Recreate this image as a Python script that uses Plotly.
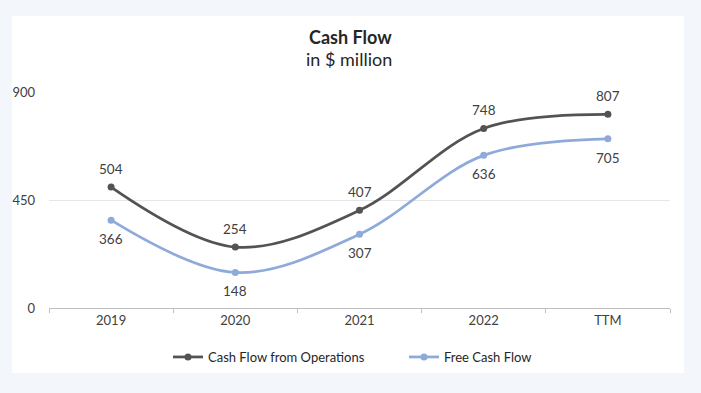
import plotly.graph_objects as go

categories = ["2019", "2020", "2021", "2022", "TTM"]
cfo = [504, 254, 407, 748, 807]
fcf = [366, 148, 307, 636, 705]
y_ticks = [0, 450, 900]

FONT = "Lato, 'Open Sans', sans-serif"
W, H = 701, 393
ML, MR, MT, MB = 49, 31, 92, 85
PW, PH = W - ML - MR, H - MT - MB
DARK = "#535353"
BLUE = "#8eaadb"

def px_x(x):
    return (x - ML) / PW

def px_y(y):
    return 1 - (y - MT) / PH

fig = go.Figure()
fig.add_trace(go.Scatter(
    x=categories, y=cfo, name="Cash Flow from Operations", legend="legend",
    mode="lines+markers", line=dict(color=DARK, width=2.75, shape="spline"),
    marker=dict(size=7, color=DARK),
))
fig.add_trace(go.Scatter(
    x=categories, y=fcf, name="Free Cash Flow", legend="legend2",
    mode="lines+markers", line=dict(color=BLUE, width=2.75, shape="spline"),
    marker=dict(size=7, color=BLUE),
))

for i, v in enumerate(cfo):
    fig.add_annotation(x=i, y=v, text=str(v), showarrow=False, yshift=18,
                       font=dict(size=13.5, color="#404040", family=FONT))
for i, v in enumerate(fcf):
    fig.add_annotation(x=i, y=v, text=str(v), showarrow=False, yshift=-19,
                       font=dict(size=13.5, color="#404040", family=FONT))

fig.add_shape(type="rect", xref="paper", yref="paper", layer="below",
              x0=px_x(12), x1=px_x(684), y0=px_y(373), y1=px_y(16),
              fillcolor="white", line=dict(width=0))

fig.add_annotation(text="<b>Cash Flow</b>", xref="paper", yref="paper",
                   x=px_x(350), y=px_y(37), xanchor="center", yanchor="middle",
                   showarrow=False, font=dict(size=18, color="#262626", family=FONT))
fig.add_annotation(text="in $ million", xref="paper", yref="paper",
                   x=px_x(349), y=px_y(59), xanchor="center", yanchor="middle",
                   showarrow=False, font=dict(size=18, color="#262626", family=FONT))

leg_common = dict(orientation="h", yanchor="middle", y=px_y(357), xanchor="left",
                  font=dict(size=13, color="#262626", family=FONT),
                  itemwidth=30, bgcolor="rgba(0,0,0,0)")

fig.update_layout(
    width=W, height=H,
    margin=dict(l=ML, r=MR, t=MT, b=MB),
    paper_bgcolor="#f3f6fa", plot_bgcolor="white",
    showlegend=True,
    legend=dict(x=px_x(168), **leg_common),
    legend2=dict(x=px_x(404), **leg_common),
    font=dict(family=FONT, color="#404040"),
    xaxis=dict(type="category", showgrid=False, showline=True, linecolor="#bfbfbf",
               ticks="outside", tickson="boundaries", ticklen=4, tickcolor="#bfbfbf",
               tickfont=dict(size=13, color="#404040"), range=[-0.5, 4.5]),
    yaxis=dict(range=[0, 900], tickvals=y_ticks, showgrid=True, gridcolor="#e6e6e6",
               zeroline=False, showline=False, ticks="", ticklabelstandoff=13,
               tickfont=dict(size=13, color="#404040")),
)

fig.write_html("out.html", config={"displayModeBar": False},
               post_script="document.body.style.margin='0';document.body.style.background='#f3f6fa';")
